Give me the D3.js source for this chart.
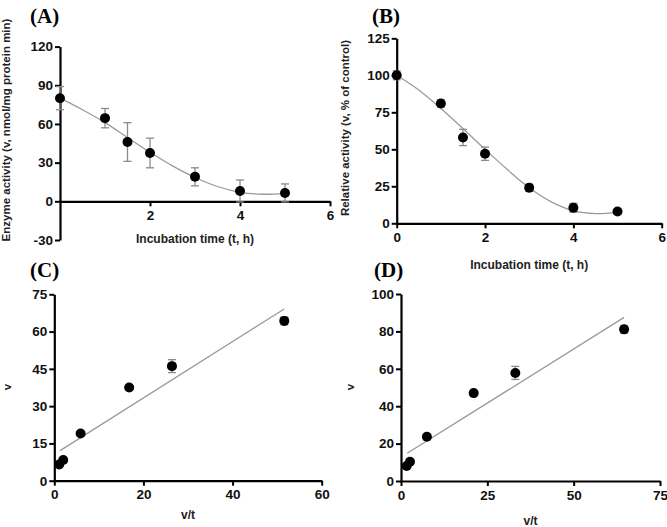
<!DOCTYPE html>
<html><head><meta charset="utf-8">
<script src="https://cdn.jsdelivr.net/npm/d3@7"></script>
<style>
body{margin:0;background:#fff;}
svg{display:block;}
.tick text{font-family:"Liberation Sans",Arial,sans-serif;font-weight:bold;font-size:13.5px;fill:#111;}
.ttl{font-family:"Liberation Sans",Arial,sans-serif;font-weight:bold;font-size:12px;fill:#222;}
.ytl{font-size:11.5px;}
.plab{font-family:"Liberation Serif","Times New Roman",serif;font-weight:bold;font-size:21px;fill:#000;}
</style></head>
<body><svg width="667" height="527"></svg>
<script>
// Panel A: enzyme activity vs time
const timeA = [0, 1, 1.5, 2, 3, 4, 5];
const actA = [80, 64.5, 46, 37.5, 19, 8, 6.5];
const errA = [9, 7.5, 15, 11.5, 7, 8.5, 7];
const fitTA = [0, 0.5, 1, 1.5, 2, 2.5, 3, 3.5, 4, 4.5, 5];
const fitVA = [80, 71, 61, 49.5, 38, 27.5, 18.5, 11.5, 7, 5.5, 6];
// Panel B: relative activity vs time
const timeB = [0, 1, 1.5, 2, 3, 4, 5];
const actB = [100, 81, 58, 47, 24, 10.5, 8];
const errB = [3, 2.5, 5.5, 4.5, 2.5, 3, 1.5];
const fitTB = [0, 0.5, 1, 1.5, 2, 2.5, 3, 3.5, 4, 4.5, 5];
const fitVB = [100, 90, 77.5, 64, 50, 36.5, 24, 14.5, 8.5, 6.5, 7.5];
// Panel C: v vs v/t
const vtC = [1.1, 2.0, 5.9, 16.8, 26.4, 51.6];
const vC = [6.5, 8.3, 19, 37.5, 46.1, 64.3];
const errC = [0.5, 0.5, 0.8, 0.8, 2.6, 1.6];
const lineXC = [1.3, 51.6];
const lineYC = [12.1, 69.1];
// Panel D: v vs v/t (relative)
const vtD = [1.65, 2.6, 7.5, 21.05, 33.1, 64.6];
const vD = [8, 10.3, 23.7, 47, 57.8, 81.1];
const errD = [0.8, 0.8, 1, 1, 3.5, 2];
const lineXD = [1.8, 64.6];
const lineYD = [14.8, 87.5];

const xTicksA = [2, 4, 6], yTicksA = [-30, 0, 30, 60, 90, 120];
const xTicksB = [0, 2, 4, 6], yTicksB = [0, 25, 50, 75, 100, 125];
const xTicksC = [0, 20, 40, 60], yTicksC = [0, 15, 30, 45, 60, 75];
const xTicksD = [0, 25, 50, 75], yTicksD = [0, 20, 40, 60, 80, 100];

const svg = d3.select("svg");
const fmt = d => String(d);

function panel(o) {
  const g = svg.append("g");
  const x = d3.scaleLinear().domain(o.xd).range(o.xr);
  const y = d3.scaleLinear().domain(o.yd).range(o.yr);
  const y0 = y(0);
  const xa = g.append("g").attr("transform", `translate(0,${y0})`)
    .call(d3.axisBottom(x).tickValues(o.xt).tickFormat(fmt).tickSize(5).tickSizeOuter(0).tickPadding(4));
  const ya = g.append("g").attr("transform", `translate(${o.xr[0]},0)`)
    .call(d3.axisLeft(y).tickValues(o.yt).tickFormat(fmt).tickSize(5).tickSizeOuter(0).tickPadding(2));
  [xa, ya].forEach(a => {
    a.select(".domain").attr("stroke", "#000").attr("stroke-width", 2.2);
    a.selectAll(".tick line").attr("stroke", "#000").attr("stroke-width", 2);
  });
  if (o.curve) {
    g.append("path").datum(o.curve)
      .attr("d", d3.line().x(d => x(d[0])).y(d => y(d[1])).curve(d3.curveCatmullRom))
      .attr("fill", "none").attr("stroke", "#9a9a9a").attr("stroke-width", 1.3);
  }
  if (o.line) {
    g.append("path").datum(o.line)
      .attr("d", d3.line().x(d => x(d[0])).y(d => y(d[1])))
      .attr("fill", "none").attr("stroke", "#9a9a9a").attr("stroke-width", 1.3);
  }
  const pts = o.px.map((v, i) => ({x: v, y: o.py[i], e: o.pe[i]}));
  const eb = g.append("g").attr("stroke", "#8a8a8a").attr("stroke-width", 1.3);
  pts.forEach(p => {
    eb.append("line").attr("x1", x(p.x)).attr("x2", x(p.x)).attr("y1", y(p.y - p.e)).attr("y2", y(p.y + p.e));
    [p.y - p.e, p.y + p.e].forEach(v => eb.append("line")
      .attr("x1", x(p.x) - 4).attr("x2", x(p.x) + 4).attr("y1", y(v)).attr("y2", y(v)));
  });
  g.append("g").selectAll("circle").data(pts).join("circle")
    .attr("cx", d => x(d.x)).attr("cy", d => y(d.y)).attr("r", 5).attr("fill", "#000");
  g.append("text").attr("class", "ttl").attr("text-anchor", "middle")
    .attr("x", (o.xr[0] + o.xr[1]) / 2).attr("y", o.xty).text(o.xtitle);
  g.append("text").attr("class", "ttl ytl").attr("text-anchor", "middle")
    .attr("transform", `translate(${o.ytx},${o.yty}) rotate(-90)`).text(o.ytitle);
  g.append("text").attr("class", "plab").attr("x", o.lx).attr("y", o.ly).text(o.label);
}

panel({xd: [0, 6], xr: [60, 330], yd: [-30, 120], yr: [240, 46.6], xt: xTicksA, yt: yTicksA,
  curve: fitTA.map((t, i) => [t, fitVA[i]]), px: timeA, py: actA, pe: errA,
  xtitle: "Incubation time (t, h)", xty: 243, ytitle: "Enzyme activity (v, nmol/mg protein min)", ytx: 10, yty: 130,
  label: "(A)", lx: 30, ly: 23});
panel({xd: [0, 6], xr: [396.7, 661.7], yd: [0, 125], yr: [223.3, 38.3], xt: xTicksB, yt: yTicksB,
  curve: fitTB.map((t, i) => [t, fitVB[i]]), px: timeB, py: actB, pe: errB,
  xtitle: "Incubation time (t, h)", xty: 269, ytitle: "Relative activity (v, % of control)", ytx: 349, yty: 128,
  label: "(B)", lx: 372, ly: 23});
panel({xd: [0, 60], xr: [54.3, 321.7], yd: [0, 75], yr: [480.7, 294.3], xt: xTicksC, yt: yTicksC,
  line: lineXC.map((v, i) => [v, lineYC[i]]), px: vtC, py: vC, pe: errC,
  xtitle: "v/t", xty: 519, ytitle: "v", ytx: 11, yty: 387,
  label: "(C)", lx: 30, ly: 277});
panel({xd: [0, 75], xr: [401, 660], yd: [0, 100], yr: [481, 294], xt: xTicksD, yt: yTicksD,
  line: lineXD.map((v, i) => [v, lineYD[i]]), px: vtD, py: vD, pe: errD,
  xtitle: "v/t", xty: 525, ytitle: "v", ytx: 354, yty: 387,
  label: "(D)", lx: 374, ly: 277});
</script></body></html>
